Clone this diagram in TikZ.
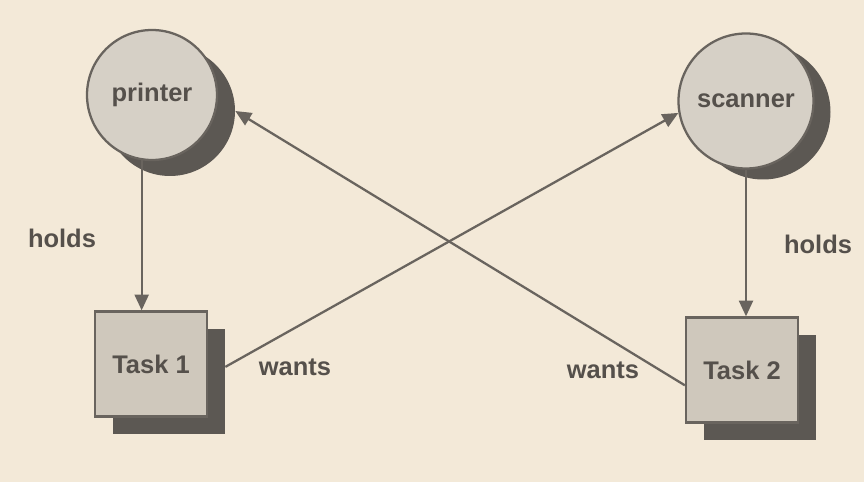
\documentclass[tikz,border=0pt]{standalone}
\usepackage{fontspec}
\setmainfont{Liberation Sans}
\usepackage{xcolor}
\usepackage{tikz}
\usetikzlibrary{calc, arrows.meta}

\definecolor{paper}{RGB}{243,233,216}
\definecolor{inkline}{RGB}{105,100,94}
\definecolor{discfill}{RGB}{214,208,198}
\definecolor{boxfill}{RGB}{207,200,188}
\definecolor{shadowgray}{RGB}{92,88,83}
\definecolor{labelgray}{RGB}{85,80,75}

\begin{document}
\begin{tikzpicture}[
    every node/.style={font=\fontsize{14.5}{17}\selectfont\bfseries, text=labelgray, align=center},
    res/.style={circle, draw=inkline, line width=1.3pt, fill=discfill, minimum size=2.6cm, inner sep=0pt},
    ressh/.style={circle, fill=shadowgray, minimum size=2.6cm, inner sep=0pt},
    task/.style={draw=inkline, line width=1.3pt, fill=boxfill, minimum width=2.24cm, minimum height=2.1cm, inner sep=0pt},
    tasksh/.style={fill=shadowgray, minimum width=2.24cm, minimum height=2.1cm, inner sep=0pt},
    arr/.style={-{Triangle[length=9pt, width=8pt]}, draw=inkline, line width=1.3pt}
]
\fill[paper] (0,0) rectangle (17.28,9.64);
\useasboundingbox (0,0) rectangle (17.28,9.64);

% shadows first
\node[ressh] (printersh) at (3.40,7.42) {};
\node[ressh, minimum size=2.7cm] (scannersh) at (15.26,7.40) {};
\node[tasksh] (task1sh) at (3.38,2.00) {};
\node[tasksh] (task2sh) at (15.20,1.88) {};

\node[res] (printer) at (3.04,7.74) {printer};
\node[res, minimum size=2.7cm] (scanner) at (14.92,7.62) {scanner};
\node[task] (task1) at (3.02,2.36) {Task 1};
\node[task] (task2) at (14.84,2.24) {Task 2};

\draw[arr] (printer.-99) -- (printer.-99 |- task1.north);
\draw[arr] (scanner.south) -- (scanner.south |- task2.north);
\draw[arr] (task1sh.15) -- (scanner.190);
\draw[arr] (task2.195) -- (printersh.east);

\node (holdsl) at (1.24,4.88) {holds};
\node (holdsr) at (16.36,4.76) {holds};
\node (wants1) at (5.90,2.30) {wants};
\node (wants2) at (12.06,2.24) {wants};
\end{tikzpicture}
\end{document}
